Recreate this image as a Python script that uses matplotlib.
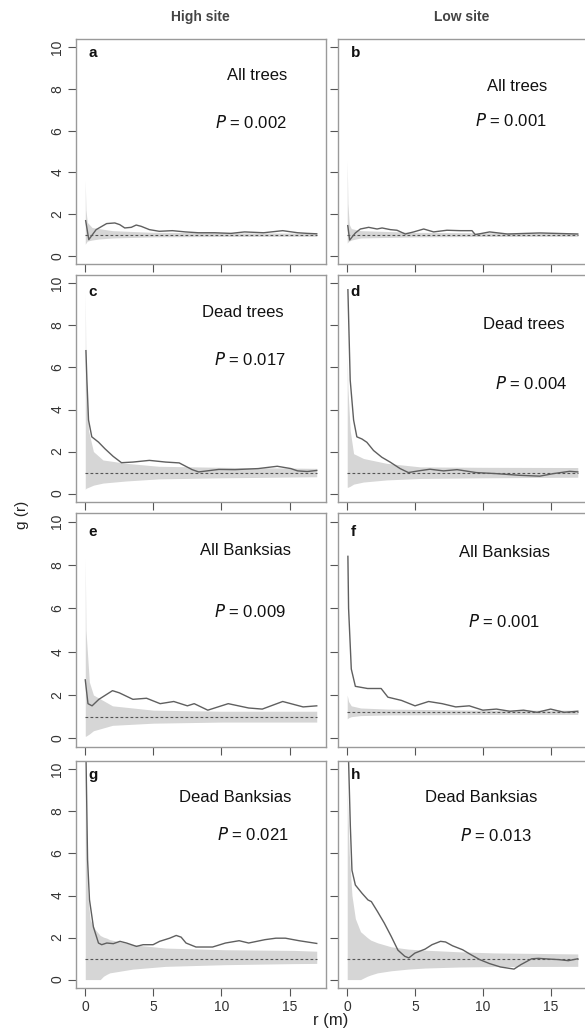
import matplotlib
matplotlib.use("Agg")
import matplotlib.pyplot as plt

plt.rcParams['font.family'] = ['Liberation Sans', 'DejaVu Sans']

# ---------------- data ----------------
panel_letters = ["a", "b", "c", "d", "e", "f", "g", "h"]
panel_titles = ["All trees", "All trees", "Dead trees", "Dead trees",
                "All Banksias", "All Banksias", "Dead Banksias", "Dead Banksias"]
p_values = ["0.002", "0.001", "0.017", "0.004", "0.009", "0.001", "0.021", "0.013"]
column_titles = ["High site", "Low site"]
x_ticks = [0, 5, 10, 15]
y_ticks = [0, 2, 4, 6, 8, 10]

# a: High site, all trees
a_r = [0.03, 0.26, 0.8, 1.57, 2.17, 2.53, 2.9, 3.38, 3.74, 4.1, 4.71, 5.43, 6.4, 7.36, 8.3, 9.5, 10.7, 11.7, 13.1, 14.5, 15.6, 16.3, 17.0]
a_g = [1.68, 0.77, 1.25, 1.54, 1.57, 1.49, 1.33, 1.36, 1.47, 1.41, 1.25, 1.17, 1.2, 1.14, 1.1, 1.1, 1.07, 1.14, 1.1, 1.2, 1.1, 1.07, 1.05]
a_env_r = [0.0, 0.05, 0.15, 0.5, 1.0, 2.0, 5.0, 10.0, 17.0]
a_env_hi = [3.6, 2.2, 1.6, 1.35, 1.3, 1.2, 1.12, 1.1, 1.08]
a_env_lo = [0.55, 0.6, 0.7, 0.75, 0.8, 0.85, 0.9, 0.92, 0.93]
a_theo = 1.0

# b: Low site, all trees
b_r = [0.04, 0.18, 0.6, 0.97, 1.58, 2.2, 2.57, 3.18, 3.67, 4.28, 4.9, 5.64, 6.37, 7.35, 8.33, 9.2, 9.44, 10.5, 11.8, 14.2, 17.0]
b_g = [1.44, 0.75, 1.09, 1.28, 1.36, 1.28, 1.33, 1.25, 1.22, 1.04, 1.14, 1.28, 1.14, 1.22, 1.2, 1.2, 1.01, 1.14, 1.04, 1.09, 1.04]
b_env_r = [0.0, 0.05, 0.15, 0.3, 1.0, 5.0, 10.0, 17.0]
b_env_hi = [4.57, 2.5, 1.5, 1.3, 1.2, 1.12, 1.1, 1.08]
b_env_lo = [0.6, 0.65, 0.7, 0.75, 0.85, 0.9, 0.92, 0.93]
b_theo = 1.0

# c: High site, dead trees
c_r = [0.05, 0.12, 0.24, 0.48, 0.97, 1.45, 2.05, 2.66, 3.5, 4.71, 5.9, 6.9, 7.85, 8.33, 9.8, 11.0, 12.7, 14.1, 15.1, 15.6, 16.3, 17.0]
c_g = [6.8, 5.4, 3.5, 2.7, 2.45, 2.13, 1.77, 1.47, 1.5, 1.58, 1.5, 1.46, 1.14, 1.03, 1.15, 1.14, 1.19, 1.3, 1.19, 1.08, 1.05, 1.1]
c_env_r = [0.0, 0.05, 0.24, 0.6, 1.3, 3.0, 5.4, 10.0, 17.0]
c_env_hi = [9.6, 6.0, 3.0, 2.0, 1.6, 1.44, 1.3, 1.25, 1.2]
c_env_lo = [0.2, 0.25, 0.3, 0.4, 0.5, 0.6, 0.7, 0.75, 0.8]
c_theo = 1.0

# d: Low site, dead trees
d_r = [0.05, 0.22, 0.47, 0.71, 1.08, 1.45, 1.94, 2.55, 3.16, 3.9, 4.51, 5.25, 6.1, 7.1, 8.1, 9.5, 11.0, 12.7, 14.2, 15.2, 16.4, 17.0]
d_g = [9.7, 5.4, 3.5, 2.7, 2.6, 2.44, 2.05, 1.73, 1.5, 1.19, 1.0, 1.08, 1.16, 1.08, 1.14, 1.0, 0.95, 0.87, 0.83, 0.95, 1.06, 1.03]
d_env_r = [0.0, 0.05, 0.22, 0.47, 1.2, 2.9, 5.4, 10.0, 17.0]
d_env_hi = [6.6, 5.0, 3.0, 1.9, 1.67, 1.44, 1.27, 1.25, 1.24]
d_env_lo = [0.3, 0.3, 0.35, 0.45, 0.55, 0.65, 0.72, 0.75, 0.78]
d_theo = 1.0

# e: High site, all Banksias
e_r = [0.0, 0.2, 0.5, 1.0, 2.0, 2.5, 3.5, 4.5, 5.5, 6.5, 7.5, 8.0, 9.0, 10.5, 12.0, 13.0, 14.5, 16.0, 17.0]
e_g = [2.7, 1.6, 1.5, 1.8, 2.2, 2.1, 1.8, 1.85, 1.6, 1.7, 1.5, 1.6, 1.3, 1.6, 1.4, 1.35, 1.7, 1.45, 1.5]
e_env_r = [0.0, 0.05, 0.3, 0.6, 2.0, 5.0, 10.0, 17.0]
e_env_hi = [8.3, 5.0, 2.6, 2.0, 1.5, 1.3, 1.25, 1.25]
e_env_lo = [0.1, 0.1, 0.2, 0.35, 0.6, 0.7, 0.75, 0.75]
e_theo = 1.0

# f: Low site, all Banksias
f_r = [0.05, 0.1, 0.3, 0.6, 1.5, 2.5, 3.0, 4.0, 5.0, 6.0, 7.0, 8.0, 9.0, 10.0, 11.0, 12.0, 13.0, 14.0, 15.0, 16.0, 17.0]
f_g = [8.4, 6.0, 3.2, 2.4, 2.3, 2.3, 1.9, 1.75, 1.5, 1.7, 1.6, 1.45, 1.5, 1.3, 1.35, 1.25, 1.3, 1.2, 1.35, 1.2, 1.25]
f_env_r = [0.0, 0.1, 0.3, 1.0, 3.0, 10.0, 17.0]
f_env_hi = [2.0, 1.7, 1.5, 1.4, 1.35, 1.3, 1.3]
f_env_lo = [0.9, 0.95, 1.0, 1.05, 1.08, 1.1, 1.1]
f_theo = 1.2

# g: High site, dead Banksias
g_r = [0.06, 0.17, 0.31, 0.6, 0.97, 1.21, 1.58, 2.06, 2.55, 3.03, 3.76, 4.25, 4.98, 5.46, 6.2, 6.68, 7.04, 7.4, 8.13, 9.35, 10.3, 11.3, 12.0, 13.2, 14.0, 14.7, 15.7, 17.0]
g_g = [10.4, 5.7, 3.8, 2.5, 1.74, 1.66, 1.74, 1.71, 1.82, 1.74, 1.58, 1.66, 1.66, 1.82, 1.97, 2.1, 2.02, 1.74, 1.55, 1.55, 1.74, 1.85, 1.74, 1.9, 1.97, 1.97, 1.85, 1.72]
g_env_r = [0.0, 0.17, 0.36, 0.73, 1.1, 1.34, 1.58, 1.8, 3.5, 5.9, 10.3, 15.3, 17.0]
g_env_hi = [10.0, 4.1, 2.85, 2.38, 2.1, 2.02, 1.97, 1.9, 1.66, 1.5, 1.42, 1.39, 1.35]
g_env_lo = [0.0, 0.0, 0.0, 0.0, 0.0, 0.16, 0.25, 0.32, 0.5, 0.63, 0.71, 0.76, 0.77]
g_theo = 1.0

# h: Low site, dead Banksias
h_r = [0.1, 0.23, 0.35, 0.6, 1.1, 1.53, 1.78, 2.23, 2.73, 3.24, 3.74, 4.24, 4.54, 4.99, 5.74, 6.25, 6.88, 7.25, 7.76, 8.51, 9.0, 9.77, 10.5, 11.3, 12.3, 12.8, 13.6, 14.1, 14.8, 15.6, 16.3, 17.0]
h_g = [10.4, 7.3, 5.2, 4.5, 4.1, 3.79, 3.71, 3.24, 2.69, 2.06, 1.4, 1.11, 1.03, 1.26, 1.45, 1.66, 1.82, 1.79, 1.61, 1.42, 1.23, 0.95, 0.76, 0.6, 0.5, 0.71, 0.99, 1.01, 0.98, 0.95, 0.9, 0.99]
h_env_r = [0.0, 0.15, 0.35, 0.6, 0.98, 1.48, 1.73, 2.23, 3.24, 4.5, 5.74, 8.3, 10.8, 17.0]
h_env_hi = [9.0, 6.0, 4.0, 2.9, 2.28, 2.0, 1.88, 1.75, 1.56, 1.45, 1.4, 1.32, 1.27, 1.22]
h_env_lo = [0.0, 0.0, 0.0, 0.0, 0.0, 0.16, 0.22, 0.32, 0.42, 0.5, 0.55, 0.6, 0.62, 0.63]
h_theo = 1.0

panels = [
    (a_r, a_g, a_env_r, a_env_hi, a_env_lo, a_theo),
    (b_r, b_g, b_env_r, b_env_hi, b_env_lo, b_theo),
    (c_r, c_g, c_env_r, c_env_hi, c_env_lo, c_theo),
    (d_r, d_g, d_env_r, d_env_hi, d_env_lo, d_theo),
    (e_r, e_g, e_env_r, e_env_hi, e_env_lo, e_theo),
    (f_r, f_g, f_env_r, f_env_hi, f_env_lo, f_theo),
    (g_r, g_g, g_env_r, g_env_hi, g_env_lo, g_theo),
    (h_r, h_g, h_env_r, h_env_hi, h_env_lo, h_theo),
]

# ---------------- layout ----------------
W, H = 585, 1029
fig = plt.figure(figsize=(W / 100, H / 100), dpi=100)

col_px = [(76, 326), (338, 587)]
row_px = [(39, 264), (275, 502), (513, 747), (761, 988)]

# text positions (axes fractions) for letter, title and P
letter_y = [0.938, 0.938, 0.925, 0.925, 0.92, 0.92, 0.938, 0.938]
title_pos = [(0.844, 0.836), (0.84, 0.79), (0.83, 0.833), (0.91, 0.784),
             (0.86, 0.838), (0.85, 0.83), (0.86, 0.841), (0.80, 0.841)]
p_pos = [(0.844, 0.631), (0.84, 0.636), (0.84, 0.626), (0.92, 0.52),
         (0.84, 0.581), (0.81, 0.538), (0.852, 0.678), (0.78, 0.674)]

spine_col = "#9a9a9a"
text_col = "#333333"
tick_col = "#555555"

for i, (rr, gg, er, ehi, elo, theo) in enumerate(panels):
    row, col = divmod(i, 2)
    x0, x1 = col_px[col]
    t, b = row_px[row]
    ax = fig.add_axes([x0 / W, 1 - b / H, (x1 - x0) / W, (b - t) / H])
    ax.fill_between(er, elo, ehi, color="#d6d6d6", linewidth=0)
    ax.axhline(theo, xmin=0.68 / 18.36, xmax=17.68 / 18.36, color="#555555",
               linewidth=0.8, linestyle=(0, (2.5, 2)))
    ax.plot(rr, gg, color="#5f5f5f", linewidth=1.0)
    ax.set_xlim(-0.68, 17.68)
    ax.set_ylim(-0.4, 10.4)
    ax.set_xticks(x_ticks)
    ax.set_yticks(y_ticks)
    for s in ax.spines.values():
        s.set_color(spine_col)
        s.set_linewidth(1.0)
    ax.tick_params(axis="both", direction="out", length=6, width=0.8,
                   color=tick_col, labelcolor=text_col, labelsize=10, pad=2.5)
    if col == 0:
        ax.set_yticklabels([str(v) for v in y_ticks], rotation=90, va="center")
    else:
        ax.set_yticklabels([])
    if row == 3:
        ax.set_xticklabels([str(v) for v in x_ticks])
    else:
        ax.set_xticklabels([])
    ax.text(0.05, letter_y[i], panel_letters[i], transform=ax.transAxes,
            fontsize=11, fontweight="bold", ha="left", va="center", color="#111111")
    tx, ty = title_pos[i]
    ax.text(tx, ty, panel_titles[i], transform=ax.transAxes, fontsize=12,
            ha="right", va="center", color="#111111")
    px, py = p_pos[i]
    ax.text(px, py, r"$\it{P}$ = " + p_values[i], transform=ax.transAxes,
            fontsize=12, ha="right", va="center", color="#111111")

fig.text(200 / W, 1 - 17 / H, column_titles[0], fontsize=10, fontweight="bold",
         ha="center", va="center", color="#444444")
fig.text(462 / W, 1 - 17 / H, column_titles[1], fontsize=10, fontweight="bold",
         ha="center", va="center", color="#444444")
fig.text(22 / W, 1 - 515 / H, "g (r)", fontsize=11, rotation=90,
         ha="center", va="center", color="#222222")
fig.text(331 / W, 1 - 1021 / H, "r (m)", fontsize=12,
         ha="center", va="center", color="#222222")

fig.savefig("out.png", dpi=100, facecolor="white")
